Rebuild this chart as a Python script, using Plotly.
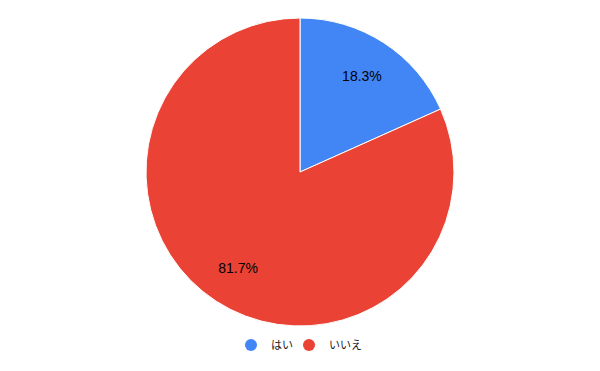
import plotly.graph_objects as go

labels = ["はい", "いいえ"]
values = [18.3, 81.7]
colors = ["#4285F4", "#EA4335"]
legend_ids = ["legend", "legend2"]

fig = go.Figure()
# filled pie, no text
fig.add_trace(go.Pie(
    labels=labels, values=values, sort=False, direction="clockwise", rotation=0,
    marker=dict(colors=colors, line=dict(color="white", width=1)),
    textinfo="none", showlegend=False, hoverinfo="label+percent",
))
# transparent ring carrying the percentage labels at ~0.74 R
fig.add_trace(go.Pie(
    labels=labels, values=values, sort=False, direction="clockwise", rotation=0,
    hole=0.48,
    marker=dict(colors=["rgba(0,0,0,0)"] * len(labels), line=dict(width=0)),
    texttemplate="%{percent:.1%}", textposition="inside",
    insidetextorientation="horizontal",
    textfont=dict(family="Liberation Sans, Arial", size=14, color="#000000"),
    showlegend=False, hoverinfo="skip",
))
for lab, col, lg in zip(labels, colors, legend_ids):
    fig.add_trace(go.Scatter(x=[None], y=[None], mode="markers", name=lab, legend=lg,
                             marker=dict(symbol="circle", size=12, color=col)))
fig.update_xaxes(visible=False)
fig.update_yaxes(visible=False)
lfont = dict(family="Noto Sans CJK JP, Liberation Sans", size=11, color="#222222")
fig.update_layout(
    width=600, height=371, margin=dict(l=0, r=0, t=18, b=45),
    paper_bgcolor="white", plot_bgcolor="white",
    legend=dict(orientation="h", x=231 / 600, xanchor="left", y=-0.062, yanchor="middle",
                font=lfont, itemsizing="constant", bgcolor="rgba(0,0,0,0)"),
    legend2=dict(orientation="h", x=289 / 600, xanchor="left", y=-0.062, yanchor="middle",
                 font=lfont, itemsizing="constant", bgcolor="rgba(0,0,0,0)"),
)
fig.write_html("out.html")
